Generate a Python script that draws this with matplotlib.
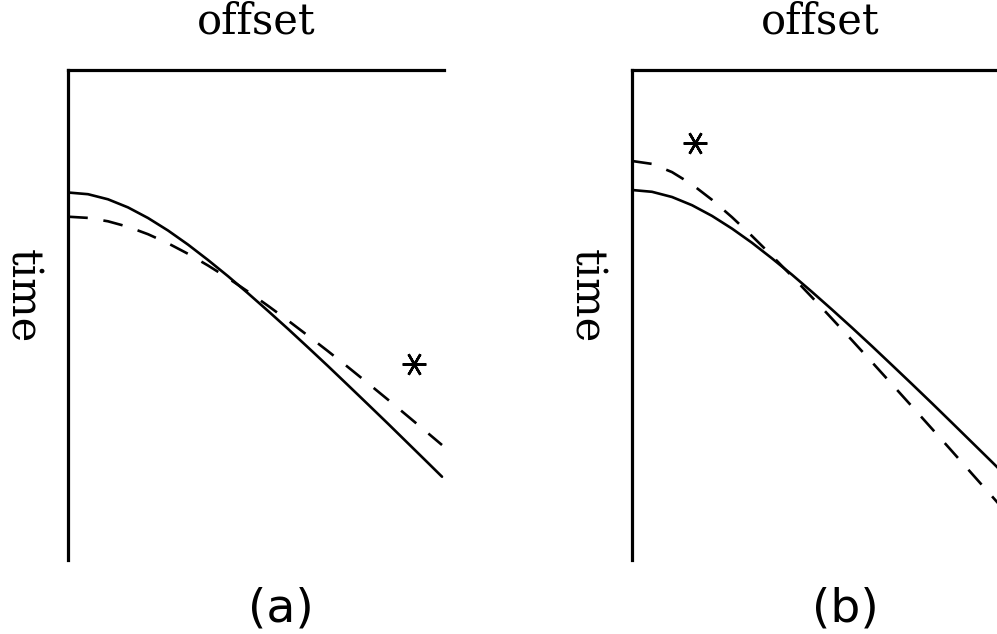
import matplotlib
matplotlib.use("Agg")
import matplotlib.pyplot as plt

# Offset / travel-time picks for the two moveout comparisons
# (offset and time in the same arbitrary units, time increasing downward)
a_offsets = [0, 20, 40, 60, 80, 100, 120, 140, 160, 180, 200,
             220, 240, 260, 280, 300, 320, 340, 360, 374]
a_solid_t = [122.5, 124.2, 129.3, 137.4, 148.0, 160.5, 174.6, 190.0, 206.2, 223.3,
             240.9, 258.9, 277.4, 296.1, 315.2, 334.4, 353.7, 373.3, 392.9, 406.7]
a_dash_t = [146.7, 147.9, 151.3, 156.8, 164.2, 173.3, 183.8, 195.5, 208.1, 221.6,
            235.8, 250.5, 265.7, 281.2, 297.1, 313.3, 329.7, 346.4, 363.2, 375.0]
a_star = (346, 294)

b_offsets = [0, 20, 40, 60, 80, 100, 120, 140, 160, 180, 200,
             220, 240, 260, 280, 300, 320, 340, 360, 376]
b_solid_t = [120.0, 121.8, 127.0, 135.2, 145.9, 158.6, 172.8, 188.4, 204.7, 221.9,
             239.6, 257.7, 276.2, 295.1, 314.1, 333.3, 352.8, 372.4, 392.0, 407.9]
b_dash_t = [91.0, 93.9, 102.1, 114.4, 129.8, 147.2, 166.0, 185.8, 206.3, 227.3,
            248.7, 270.3, 292.2, 314.3, 336.5, 358.8, 381.2, 403.8, 426.3, 444.4]
b_star = (63, 73)

panel_labels = ["(a)", "(b)"]
x_label = "offset"
y_label = "time"

W, H = 997, 634
fig = plt.figure(figsize=(W / 100, H / 100), dpi=100)

ax_w, ax_h = 376, 490
lefts = [68, 632]
top = 70

panels = [
    (a_offsets, a_solid_t, a_dash_t, a_star),
    (b_offsets, b_solid_t, b_dash_t, b_star),
]

for i, (xs, st, dt, star) in enumerate(panels):
    left = lefts[i]
    ax = fig.add_axes([left / W, 1 - (top + ax_h) / H, ax_w / W, ax_h / H])
    ax.plot(xs, st, color="black", lw=1.9, solid_capstyle="round",
            solid_joinstyle="round")
    ax.plot(xs, dt, color="black", lw=1.9, dashes=(7.5, 6))
    ax.plot([star[0]], [star[1]], marker=(6, 2, 90), markersize=17,
            markeredgewidth=1.8, color="black", linestyle="none")
    ax.set_xlim(0, ax_w)
    ax.set_ylim(ax_h, 0)
    ax.set_xticks([])
    ax.set_yticks([])
    for side in ("right", "bottom"):
        ax.spines[side].set_visible(False)
    for side in ("left", "top"):
        ax.spines[side].set_linewidth(2.3)

    cx = left + ax_w / 2
    fig.text(cx / W, 1 - 33 / H, x_label, ha="center", va="baseline",
             fontsize=30, family="DejaVu Serif")
    fig.text((left - 46) / W, 1 - 296 / H, y_label, ha="center", va="center",
             rotation=-90, fontsize=30, family="DejaVu Serif")
    fig.text((left + 213) / W, 1 - 622 / H, panel_labels[i], ha="center",
             va="baseline", fontsize=34, family="DejaVu Sans")

fig.savefig("out.png", dpi=100)
